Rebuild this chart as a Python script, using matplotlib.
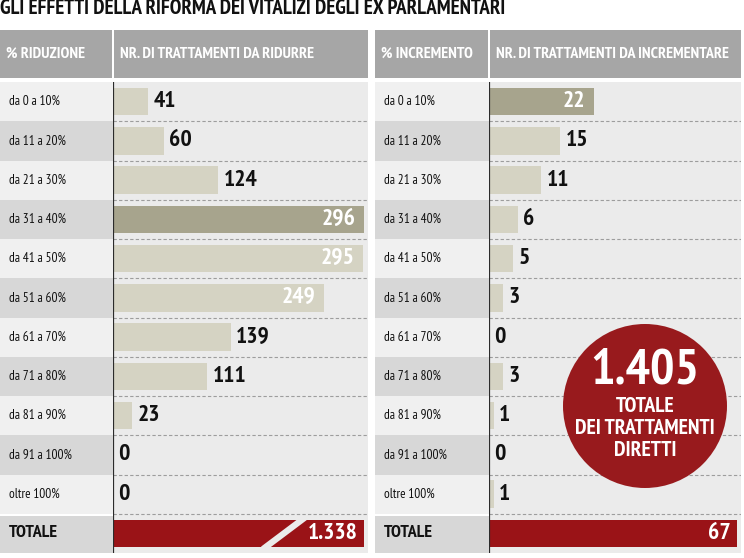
import matplotlib
matplotlib.use("Agg")
import matplotlib.pyplot as plt
from matplotlib.patches import Rectangle, Circle

FONTS = ['PT Sans Narrow', 'Roboto Condensed', 'Open Sans Condensed', 'Asap Condensed',
         'Liberation Sans Narrow', 'DejaVu Sans']
plt.rcParams['font.family'] = FONTS

title = "GLI EFFETTI DELLA RIFORMA DEI VITALIZI DEGLI EX PARLAMENTARI"
left_headers = ["% RIDUZIONE", "NR. DI TRATTAMENTI DA RIDURRE"]
right_headers = ["% INCREMENTO", "NR. DI TRATTAMENTI DA INCREMENTARE"]

red_categories = ["da 0 a 10%", "da 11 a 20%", "da 21 a 30%", "da 31 a 40%", "da 41 a 50%",
                  "da 51 a 60%", "da 61 a 70%", "da 71 a 80%", "da 81 a 90%", "da 91 a 100%",
                  "oltre 100%"]
red_values = [41, 60, 124, 296, 295, 249, 139, 111, 23, 0, 0]
red_total = 1338

inc_categories = ["da 0 a 10%", "da 11 a 20%", "da 21 a 30%", "da 31 a 40%", "da 41 a 50%",
                  "da 51 a 60%", "da 61 a 70%", "da 71 a 80%", "da 81 a 90%", "da 91 a 100%",
                  "oltre 100%"]
inc_values = [22, 15, 11, 6, 5, 3, 0, 3, 1, 0, 1]
inc_total = 67

total_label = "TOTALE"
circle_lines = ["TOTALE", "DEI TRATTAMENTI", "DIRETTI"]

# colours
HEADER = '#a6a6a6'
LIGHT = '#f0f0f0'
DARK = '#d7d7d7'
AREA = '#ebebeb'
BAR = '#d5d3c3'
BAR_HI = '#a7a48d'
RED = '#9a1317'
CIRCLE_RED = '#981a1d'

W, H = 744, 558
fig = plt.figure(figsize=(W / 100, H / 100), dpi=100)
fig.patch.set_facecolor('white')

bg = fig.add_axes([0, 0, 1, 1])
bg.set_xlim(0, W)
bg.set_ylim(H, 0)
bg.axis('off')

TOP, ROWH = 82.0, 39.25
NROWS = len(red_categories)


def fmt(n):
    return f"{n:,}".replace(",", ".")


def panel(x_label0, x_label1, x_bar0, x_bar1, headers, cats):
    # header cells
    bg.add_patch(Rectangle((x_label0, 30), x_label1 - x_label0 - 1, 48, color=HEADER, lw=0))
    bg.add_patch(Rectangle((x_bar0 + 1, 30), x_bar1 - x_bar0 - 1, 48, color=HEADER, lw=0))
    bg.text(x_label0 + 6, 54, headers[0], color='white', fontsize=11.5, fontweight='bold',
            va='center', ha='left')
    bg.text(x_bar0 + 7, 54, headers[1], color='white', fontsize=11.5, fontweight='bold',
            va='center', ha='left')
    # label cells
    for i, c in enumerate(cats):
        y0 = TOP + i * ROWH
        bg.add_patch(Rectangle((x_label0, y0), x_bar0 - x_label0, ROWH,
                               color=LIGHT if i % 2 == 0 else DARK, lw=0))
        bg.text(x_label0 + 9, y0 + ROWH / 2, c, fontsize=9.5, va='center', ha='left',
                color='#111111')
    y0 = TOP + NROWS * ROWH
    bg.add_patch(Rectangle((x_label0, y0 + 2), x_bar0 - x_label0, ROWH - 2, color=DARK, lw=0))
    bg.text(x_label0 + 9, y0 + ROWH / 2, total_label, fontsize=13, fontweight='bold',
            va='center', ha='left', color='#111111')

    # bar axes
    ax = fig.add_axes([x_bar0 / W, 1 - (TOP + (NROWS + 1) * ROWH) / H,
                       (x_bar1 - x_bar0) / W, (NROWS + 1) * ROWH / H])
    ax.set_facecolor(AREA)
    return ax


def draw_bars(ax, values, total, xmax, slash=False):
    ax.set_xlim(0, xmax)
    ax.set_ylim(NROWS + 0.5, -0.5)
    vmax = max(values)
    ys = list(range(len(values)))
    colors = [BAR_HI if v == vmax else BAR for v in values]
    ax.barh(ys, values, height=0.7, color=colors, lw=0, zorder=2)
    for y, v in zip(ys, values):
        if v > 0.75 * vmax:
            ax.annotate(str(v), (v, y), xytext=(-6, 0), textcoords='offset points',
                        ha='right', va='center', color='white', fontsize=17,
                        fontweight='bold', zorder=4)
        else:
            ax.annotate(str(v), (v, y), xytext=(4, 0), textcoords='offset points',
                        ha='left', va='center', color='#111111', fontsize=17,
                        fontweight='bold', zorder=4)
    tot_len = min(total, xmax * 0.985)
    ax.barh([NROWS], [tot_len], height=0.7, color=RED, lw=0, zorder=2)
    ax.annotate(fmt(total), (tot_len, NROWS), xytext=(-5, 0), textcoords='offset points',
                ha='right', va='center', color='white', fontsize=17, fontweight='bold',
                zorder=4)
    if slash:
        ax.plot([xmax * 0.588, xmax * 0.752], [NROWS + 0.4, NROWS - 0.4], color=AREA,
                lw=4.5, zorder=3, solid_capstyle='butt')
    for k in range(NROWS):
        ax.axhline(k + 0.5, color='#9d9d9d', lw=0.8, ls=(0, (3, 2)), zorder=1)
    ax.axvline(0, color='#2b2b2b', lw=1.6, zorder=5)
    for s in ax.spines.values():
        s.set_visible(False)
    ax.set_xticks([])
    ax.set_yticks([])


axL = panel(0, 113, 113, 368, left_headers, red_categories)
draw_bars(axL, red_values, red_total, 301, slash=True)

axR = panel(375, 489, 489, 741, right_headers, inc_categories)
draw_bars(axR, inc_values, inc_total, 53)

# overlay: title and circle
ov = fig.add_axes([0, 0, 1, 1])
ov.set_xlim(0, W)
ov.set_ylim(H, 0)
ov.axis('off')
ov.patch.set_alpha(0)

ov.text(0, 14, title, fontsize=15, fontweight='bold', ha='left', va='baseline',
        color='#111111')

CX, CY = 645, 406
ov.add_patch(Circle((CX, CY), 82, color=CIRCLE_RED, lw=0, zorder=5))
ov.text(CX, 371, fmt(red_total + inc_total), color='white', fontsize=37,
        fontweight='bold', ha='center', va='center', zorder=6)
for line, yy in zip(circle_lines, [406, 428, 450]):
    ov.text(CX, yy, line, color='white', fontsize=15.5, fontweight='bold',
            ha='center', va='center', zorder=6)

fig.savefig("out.png", dpi=100)
